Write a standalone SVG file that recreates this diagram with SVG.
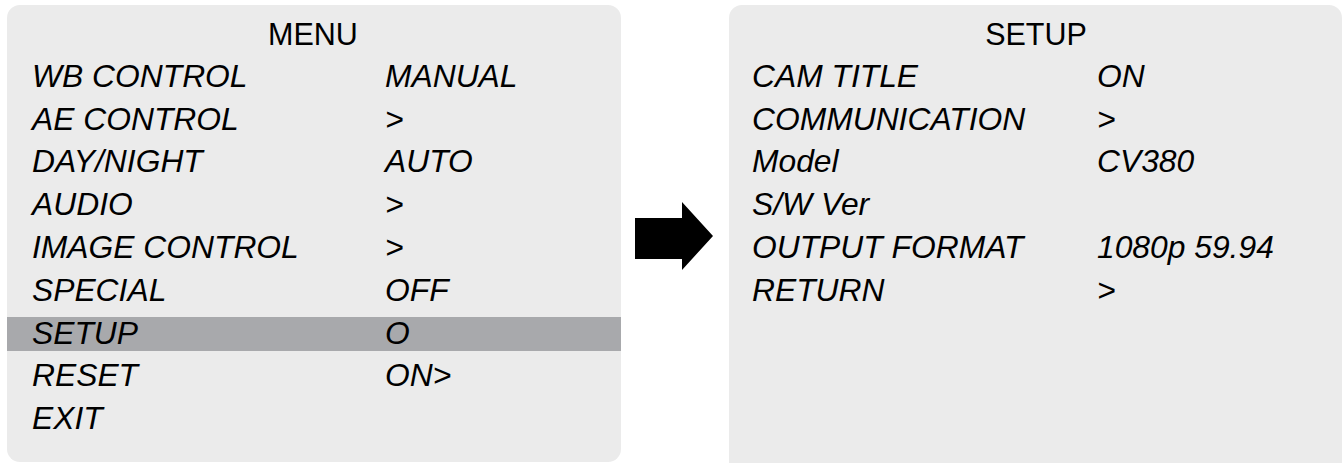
<svg xmlns="http://www.w3.org/2000/svg" width="1343" height="463" viewBox="0 0 1343 463">
<style>
.panel{fill:#ebebeb}
.hl{fill:#a8a9ac}
.t{font-family:"Liberation Sans",Arial,sans-serif;font-size:31.8px;font-style:italic;fill:#000}
.h{font-family:"Liberation Sans",Arial,sans-serif;font-size:30.5px;fill:#000;text-anchor:middle}
</style>
<rect width="1343" height="463" fill="#fff"/>
<g id="menu">
<rect class="panel" x="7" y="5" width="614" height="457" rx="13"/>
<rect class="hl" x="7" y="317" width="614" height="34"/>
<text class="h" x="313" y="45">MENU</text>
<text class="t" x="32" y="87">WB CONTROL</text><text class="t" x="385" y="87">MANUAL</text>
<text class="t" x="32" y="130">AE CONTROL</text><text class="t" x="385" y="130">&gt;</text>
<text class="t" x="32" y="172">DAY/NIGHT</text><text class="t" x="385" y="172">AUTO</text>
<text class="t" x="32" y="215">AUDIO</text><text class="t" x="385" y="215">&gt;</text>
<text class="t" x="32" y="258">IMAGE CONTROL</text><text class="t" x="385" y="258">&gt;</text>
<text class="t" x="32" y="301">SPECIAL</text><text class="t" x="385" y="301">OFF</text>
<text class="t" x="32" y="344">SETUP</text><text class="t" x="385" y="344">O</text>
<text class="t" x="32" y="386">RESET</text><text class="t" x="385" y="386">ON&gt;</text>
<text class="t" x="32" y="429">EXIT</text>
</g>
<g id="connectors">
<polygon points="635,218 682,218 682,202 713,236 682,270 682,259 635,259" fill="#000"/>
</g>
<g id="setup">
<rect class="panel" x="729" y="5" width="613" height="475" rx="13"/>
<text class="h" x="1036" y="45">SETUP</text>
<text class="t" x="752" y="87">CAM TITLE</text><text class="t" x="1097" y="87">ON</text>
<text class="t" x="752" y="130">COMMUNICATION</text><text class="t" x="1097" y="130">&gt;</text>
<text class="t" x="752" y="172">Model</text><text class="t" x="1097" y="172">CV380</text>
<text class="t" x="752" y="215">S/W Ver</text>
<text class="t" x="752" y="258">OUTPUT FORMAT</text><text class="t" x="1097" y="258">1080p 59.94</text>
<text class="t" x="752" y="301">RETURN</text><text class="t" x="1097" y="301">&gt;</text>
</g>
</svg>
